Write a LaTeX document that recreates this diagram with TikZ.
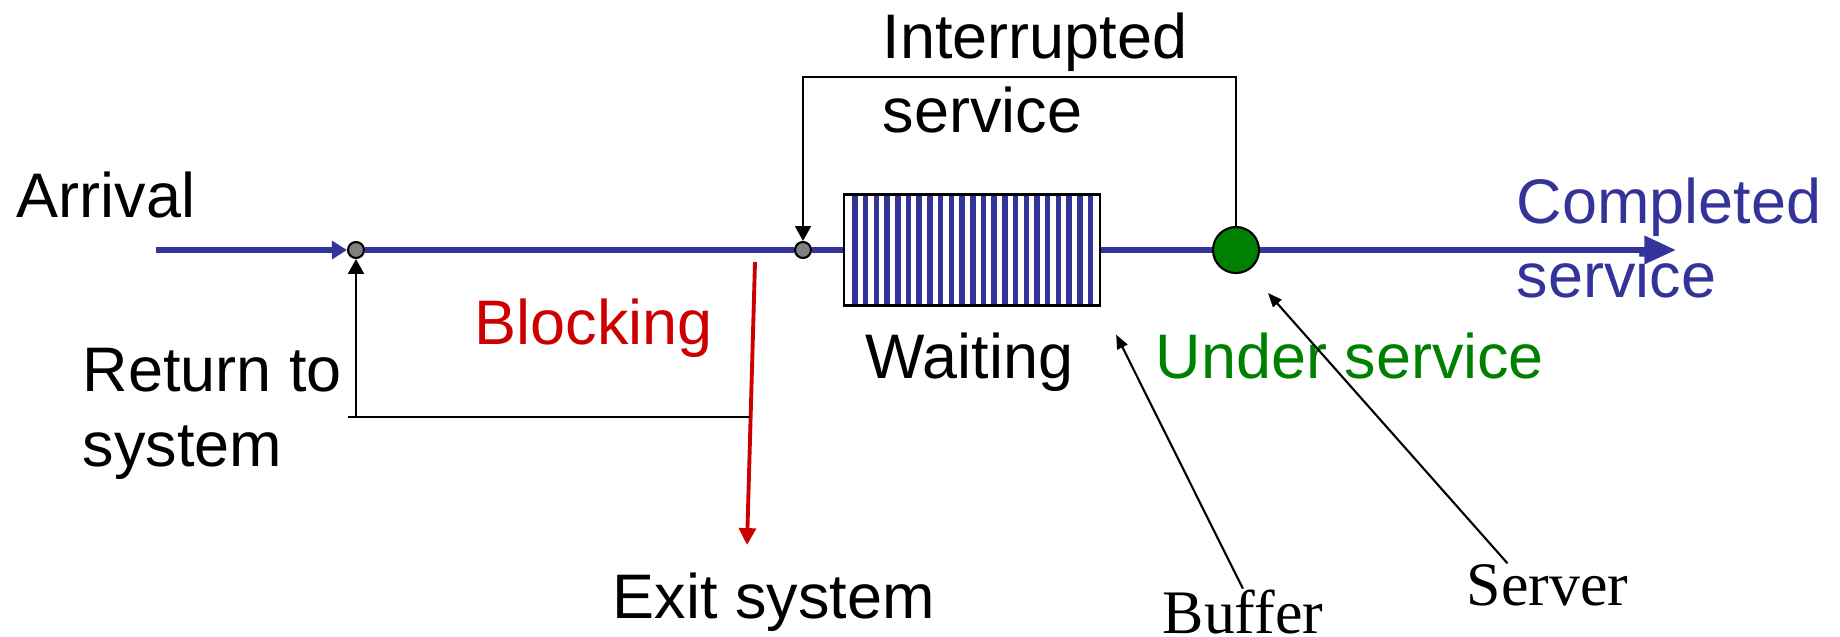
\documentclass[tikz,border=0pt]{standalone}
\usepackage{fontspec}
\setmainfont{Liberation Sans}
\newfontfamily\timesfont{Liberation Serif}
\usetikzlibrary{arrows.meta}

\definecolor{flow}{RGB}{51,51,153}
\definecolor{busy}{RGB}{0,128,0}
\definecolor{blocked}{RGB}{204,0,0}

\tikzset{
  txt/.style = {inner sep = 0pt, anchor = base west, align = left,
    font = \fontsize{17.9}{21.2}\selectfont},
  junction/.style = {circle, draw, fill = gray, line width = .6pt,
    inner sep = 0pt, minimum size = .16cm},
  queue/.style = {draw, line width = .6pt, inner sep = 0pt,
    minimum width = 2.56cm, minimum height = 1.11cm,
    path picture = {
      \foreach \i in {0, ..., 22}
        \fill [flow] ([xshift = .083cm + .107cm*\i]
          path picture bounding box.south west) rectangle +(.055cm, 1.11cm);
    }},
  server/.style = {circle, draw, fill = busy, line width = .6pt,
    inner sep = 0pt, minimum size = .46cm},
  flowline/.style = {flow, line width = 1.8pt},
  thinarrow/.style = {line width = .6pt,
    -{Triangle[length = 4.2pt, width = 4.5pt]}},
  pointer/.style = {line width = .6pt,
    -{Triangle[length = 4pt, width = 3.2pt]}}
}

\begin{document}
\begin{tikzpicture}[x = .01cm, y = -.01cm]
  \useasboundingbox (0,0) rectangle (1840,637);

  % queue line: junctions, buffer, server
  \node [junction] (join) at (356,250) {};
  \node [junction] (rejoin) at (803,250) {};
  \node [queue] (buffer) at (972,250) {};
  \node [server] (srv) at (1236,250) {};
  \coordinate (in) at (156,250);
  \coordinate (out) at (1676,250);

  \draw [flowline, -{Triangle[length = 4.3pt, width = 5.1pt]}] (in) -- (join.west);
  \draw [flowline] (join.east) -- (rejoin.west) (rejoin.east) -- (buffer.west)
    (buffer.east) -- (srv.west);
  \draw [flowline, -{Triangle[length = 9pt, width = 7.7pt]}] (srv.east) -- (out);

  % blocking exit and return path
  \coordinate (blocktop) at (755,262);
  \coordinate (exit) at (747,545);
  \coordinate (back) at (356,417);
  \draw [blocked, line width = 1.1pt,
    -{Triangle[length = 4.8pt, width = 4.8pt]}] (blocktop) -- (exit);
  \draw [line width = .6pt] (750,417) -- ([xshift = -.08cm]back);
  \draw [thinarrow] (back) -- (join.south);

  % interrupted service loop
  \coordinate (looptop) at (803,77);
  \draw [thinarrow] (srv.north) |- (looptop) -- (rejoin.north);

  % labels (two-line ones sit on their last baseline)
  \node [txt] (arrival) at (16,218) {Arrival};
  \node [txt] (return) at (82,466) {Return to\\system};
  \node [txt, text = blocked] (blocking) at (474,345) {Blocking};
  \node [txt] (exitsys) at (612,618) {Exit system};
  \node [txt] (interrupt) at (882,133) {Interrupted\\service};
  \node [txt] (waiting) at (865,378) {Waiting};
  \node [txt, text = busy] (under) at (1155,378) {Under service};
  \node [txt, text = flow] (completed) at (1516,298) {Completed\\service};
  \node [txt, font = \timesfont\fontsize{17.6}{21}\selectfont]
    (buflabel) at (1162,633) {Buffer};
  \node [txt, font = \timesfont\fontsize{17.6}{21}\selectfont]
    (srvlabel) at (1466,605) {Server};

  \draw [pointer] (buflabel.north) -- ([shift = {(15,28)}]buffer.south east);
  \draw [pointer] ([xshift = -.4cm]srvlabel.north) -- ([shift = {(15,26)}]srv.south east);
\end{tikzpicture}
\end{document}
